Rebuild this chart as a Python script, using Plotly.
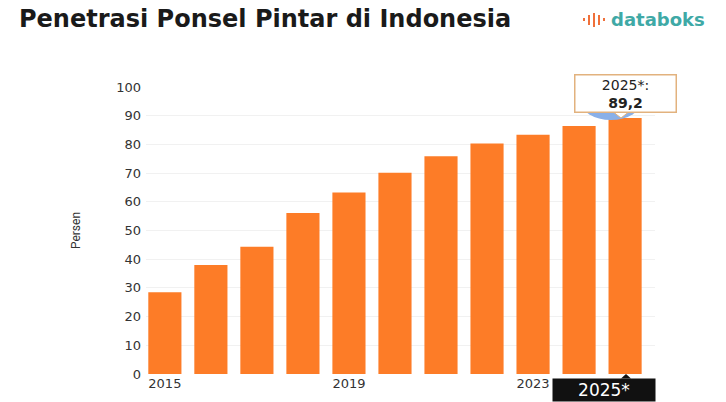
import plotly.graph_objects as go

years = ["2015", "2016", "2017", "2018", "2019", "2020", "2021", "2022", "2023", "2024", "2025*"]
values = [28.5, 38.0, 44.3, 56.1, 63.2, 70.1, 75.9, 80.3, 83.4, 86.4, 89.2]
tick_years = ["2015", "2019", "2023"]
y_ticks = [0, 10, 20, 30, 40, 50, 60, 70, 80, 90, 100]

title_text = "Penetrasi Ponsel Pintar di Indonesia"
brand = "databoks"
y_title = "Persen"
hl_year = years[-1]
hl_value = values[-1]

BAR = "#FD7C27"
L, R, T, B = 146, 71, 87, 28
PW, PH = 726 - L - R, 402 - T - B


def px(x):
    return (x - L) / PW


def py(y):
    return (402 - B - y) / PH


fig = go.Figure()
fig.add_trace(go.Bar(x=years, y=values, marker=dict(color=BAR, line=dict(width=0)),
                     hoverinfo="skip"))

fig.update_layout(
    width=726, height=402,
    margin=dict(l=L, r=R, t=T, b=B),
    paper_bgcolor="white", plot_bgcolor="white",
    showlegend=False, bargap=0.28,
    font=dict(family="DejaVu Sans", color="#333"),
    xaxis=dict(type="category", range=[-0.41, 10.65], tickmode="array",
               tickvals=tick_years, ticktext=tick_years, showgrid=False,
               showline=False, zeroline=False, ticks="",
               tickfont=dict(size=13, color="#333"), ticklabelstandoff=0),
    yaxis=dict(range=[0, 100], tickvals=y_ticks, showgrid=True, gridcolor="#F1F1F1",
               gridwidth=1, zeroline=False, showline=False, ticks="",
               tickfont=dict(size=13, color="#333"), ticklabelstandoff=4,
               title=dict(text=y_title, font=dict(size=12, family="Liberation Sans Narrow, Roboto", color="#333"), standoff=32)),
)

# Title
fig.add_annotation(xref="paper", yref="paper", x=px(17), y=py(19),
                   xanchor="left", yanchor="middle", showarrow=False,
                   text="<b>" + title_text + "</b>",
                   font=dict(size=24, family="DejaVu Sans", color="#1a1a1a"))
# Brand
fig.add_annotation(xref="paper", yref="paper", x=px(609), y=py(20),
                   xanchor="left", yanchor="middle", showarrow=False,
                   text="<b>" + brand + "</b>",
                   font=dict(size=18, family="DejaVu Sans", color="#3FA9A6"))
# Brand icon (small orange bars)
icon = [(583, 18, 21), (588, 15, 25), (593, 13, 27), (598, 15, 25), (603, 18, 21)]
for (bx, y0, y1) in icon:
    fig.add_shape(type="rect", xref="paper", yref="paper",
                  x0=px(bx), x1=px(bx + 2), y0=py(y1), y1=py(y0),
                  fillcolor="#F0703A", line=dict(width=0))

# Hover highlight blob (mostly hidden behind tooltip)
fig.add_shape(type="circle", xref="paper", yref="paper",
              x0=px(580), x1=px(642), y0=py(120), y1=py(80),
              fillcolor="#8AB0E8", line=dict(width=0))

# Tooltip
fig.add_annotation(x=hl_year, y=hl_value, xref="x", yref="y", showarrow=False,
                   xanchor="center", yanchor="bottom", yshift=5,
                   text=hl_year + ":<br><b>" + f"{hl_value}".replace(".", ",") + "</b>",
                   font=dict(size=14, color="#222"), align="center",
                   bgcolor="white", bordercolor="#E2B27E", borderwidth=1.5, borderpad=1,
                   width=98)
# Tooltip pointer
fig.add_shape(type="path", xref="paper", yref="paper",
              path=f"M {px(614)} {py(112.5)} L {px(621)} {py(118)} L {px(628)} {py(112.5)} Z",
              fillcolor="white", line=dict(color="#E2B27E", width=1))
# Bottom crosshair label
fig.add_annotation(x=hl_year, y=0, xref="x", yref="paper", showarrow=False,
                   xanchor="center", yanchor="top", yshift=-4, xshift=-21,
                   text=hl_year, font=dict(size=17, color="white"),
                   bgcolor="#111", borderpad=1, width=100)
fig.add_shape(type="path", xref="paper", yref="paper",
              path=f"M {px(621)} {py(378.5)} L {px(626)} {py(374)} L {px(631)} {py(378.5)} Z",
              fillcolor="#111", line=dict(width=0))

fig.write_html("out.html")
